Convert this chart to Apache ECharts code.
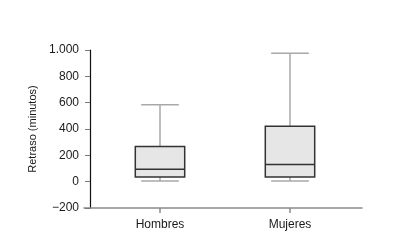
<!DOCTYPE html>
<html><head><meta charset="utf-8">
<script src="https://cdn.jsdelivr.net/npm/echarts@6/dist/echarts.min.js"></script>
<style>html,body{margin:0;padding:0;background:#fff}#c{width:407px;height:249px}</style>
</head><body><div id="c"></div>
<script>
var categories = ['Hombres', 'Mujeres'];
var lowWhisker = [5, 5];
var q1 = [35, 35];
var median = [95, 130];
var q3 = [268, 420];
var highWhisker = [585, 975];
var yTicks = [-200, 0, 200, 400, 600, 800, 1000];

var chart = echarts.init(document.getElementById('c'), null, {renderer: 'canvas'});
var data = categories.map(function (c, i) {
  return [i + 1, lowWhisker[i], q1[i], median[i], q3[i], highWhisker[i]];
});
function fmt(v) {
  var s = String(Math.abs(v));
  if (s.length > 3) s = s.slice(0, s.length - 3) + '.' + s.slice(-3);
  return (v < 0 ? '\u2212' : '') + s;
}
var font = 'Liberation Sans, Arial, Helvetica, sans-serif';
chart.setOption({
  animation: false,
  grid: {left: 84, right: 45, top: 50, bottom: 41},
  xAxis: {
    type: 'value', min: 1 - 76 / 130, max: 2 + 72 / 130,
    splitLine: {show: false},
    axisLine: {show: true, onZero: false, lineStyle: {color: '#8a8a8a', width: 1.5}},
    axisTick: {show: true, customValues: [1, 2], length: 5, lineStyle: {color: '#8a8a8a', width: 1.5}},
    axisLabel: {customValues: [1, 2], formatter: function (v) { return categories[Math.round(v) - 1] || ''; },
      color: '#1a1a1a', fontSize: 12, fontFamily: font, margin: 11}
  },
  yAxis: {
    type: 'value', min: -200, max: 1000, interval: 200, offset: -6,
    name: 'Retraso (minutos)', nameLocation: 'middle', nameGap: 51,
    nameTextStyle: {color: '#1a1a1a', fontSize: 11, fontFamily: font},
    splitLine: {show: false},
    axisLine: {show: true, onZero: false, lineStyle: {color: '#111', width: 1.2}},
    axisTick: {show: true, length: 5, lineStyle: {color: '#777', width: 1}},
    axisLabel: {formatter: fmt, color: '#1a1a1a', fontSize: 12, fontFamily: font, margin: 11}
  },
  series: [{
    type: 'custom',
    data: data,
    renderItem: function (params, api) {
      var x = api.value(0);
      var unit = api.size([1, 0])[0];
      var bh = unit * 0.19, ch = unit * 0.145;
      var p = function (v) { return api.coord([x, v]); };
      var lo = p(api.value(1)), a = p(api.value(2)), m = p(api.value(3)), b = p(api.value(4)), hi = p(api.value(5));
      var cx = lo[0];
      var wStyle = {stroke: '#a8a8a8', lineWidth: 1.5};
      return {
        type: 'group',
        children: [
          {type: 'line', shape: {x1: cx, y1: b[1], x2: cx, y2: hi[1]}, style: wStyle},
          {type: 'line', shape: {x1: cx - ch, y1: hi[1], x2: cx + ch, y2: hi[1]}, style: wStyle},
          {type: 'line', shape: {x1: cx, y1: a[1], x2: cx, y2: lo[1]}, style: wStyle},
          {type: 'line', shape: {x1: cx - ch, y1: lo[1], x2: cx + ch, y2: lo[1]}, style: wStyle},
          {type: 'rect', shape: {x: cx - bh, y: b[1], width: 2 * bh, height: a[1] - b[1]},
            style: {fill: '#e6e6e6', stroke: '#333', lineWidth: 1.5}},
          {type: 'line', shape: {x1: cx - bh, y1: m[1], x2: cx + bh, y2: m[1]}, style: {stroke: '#333', lineWidth: 1.5}}
        ]
      };
    }
  }]
});
</script></body></html>
